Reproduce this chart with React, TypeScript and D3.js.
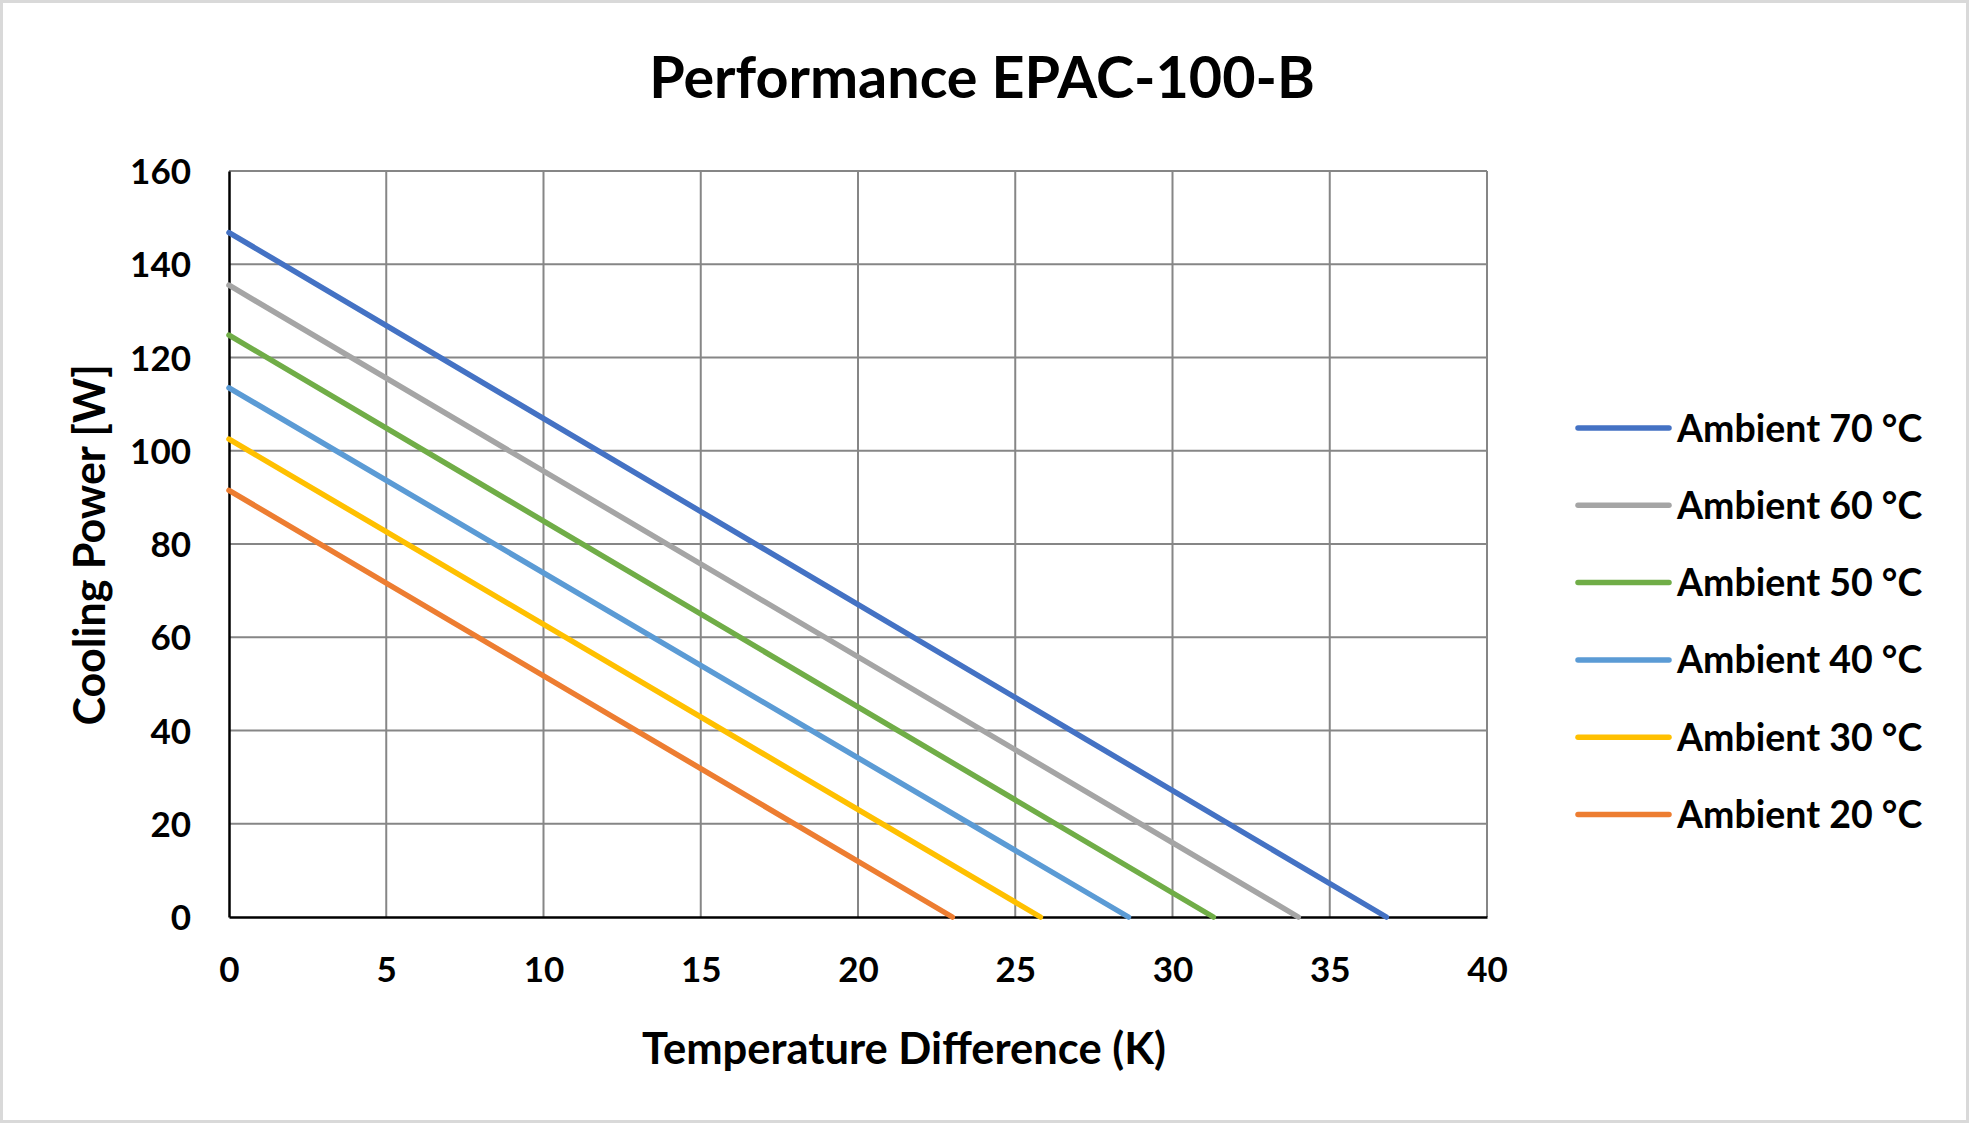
import React, { useEffect, useRef } from 'react';
import * as d3 from 'd3';

const seriesNames = ['Ambient 70 °C', 'Ambient 60 °C', 'Ambient 50 °C', 'Ambient 40 °C', 'Ambient 30 °C', 'Ambient 20 °C'];
const seriesColors = ['#4472C4', '#A5A5A5', '#70AD47', '#5B9BD5', '#FFC000', '#ED7D31'];
// cooling power at dT = 0 (W)
const maxPower = [146.8, 135.5, 124.8, 113.5, 102.5, 91.5];
// dT where cooling power reaches 0 (K)
const maxDeltaT = [36.8, 34.0, 31.3, 28.6, 25.8, 23.0];
const xTicks = [0, 5, 10, 15, 20, 25, 30, 35, 40];
const yTicks = [0, 20, 40, 60, 80, 100, 120, 140, 160];

const W = 1969;
const H = 1123;
const FONT = 'Lato, "Open Sans", sans-serif';

const App = () => {
    const ref = useRef<SVGSVGElement | null>(null);

    useEffect(() => {
        const svg = d3.select(ref.current);
        svg.selectAll('*').remove();

        const margin = { top: 171, right: 482, bottom: 206, left: 229 };
        const width = W - margin.left - margin.right;
        const height = H - margin.top - margin.bottom;

        svg.append('rect')
            .attr('x', 1.5).attr('y', 1.5)
            .attr('width', W - 3).attr('height', H - 3)
            .attr('fill', '#fff')
            .attr('stroke', '#d9d9d9')
            .attr('stroke-width', 3);

        const g = svg.append('g')
            .attr('transform', 'translate(' + margin.left + ',' + margin.top + ')');

        const x = d3.scaleLinear().domain([0, 40]).range([0, width]);
        const y = d3.scaleLinear().domain([0, 160]).range([height, 0]);

        // grid
        g.selectAll('.vgrid')
            .data(xTicks.slice(1))
            .enter().append('line')
            .attr('x1', (d: number) => x(d)).attr('x2', (d: number) => x(d))
            .attr('y1', 0).attr('y2', height)
            .attr('stroke', '#868686').attr('stroke-width', 2);
        g.selectAll('.hgrid')
            .data(yTicks.slice(1))
            .enter().append('line')
            .attr('x1', 0).attr('x2', width)
            .attr('y1', (d: number) => y(d)).attr('y2', (d: number) => y(d))
            .attr('stroke', '#868686').attr('stroke-width', 2);

        // axes
        const xAxis = g.append('g')
            .attr('transform', 'translate(0,' + height + ')')
            .call(d3.axisBottom(x).tickValues(xTicks).tickSize(0).tickPadding(65));
        const yAxis = g.append('g')
            .call(d3.axisLeft(y).tickValues(yTicks).tickSize(0).tickPadding(38));
        [xAxis, yAxis].forEach((a: any) => {
            a.select('.domain').attr('stroke', '#000').attr('stroke-width', 2.5);
            a.selectAll('text')
                .attr('font-family', FONT)
                .attr('font-weight', 'bold')
                .attr('font-size', 35)
                .attr('fill', '#000');
        });
        xAxis.selectAll('text').attr('dy', '0');
        yAxis.selectAll('text').attr('dy', '0.36em');

        // series
        const line = d3.line<[number, number]>()
            .x((d) => x(d[0]))
            .y((d) => y(d[1]));
        seriesNames.forEach((name, i) => {
            const pts: [number, number][] = [[0, maxPower[i]], [maxDeltaT[i], 0]];
            g.append('path')
                .datum(pts)
                .attr('d', line)
                .attr('fill', 'none')
                .attr('stroke', seriesColors[i])
                .attr('stroke-width', 5.5)
                .attr('stroke-linecap', 'round');
        });

        // titles
        svg.append('text')
            .text('Performance EPAC-100-B')
            .attr('x', 982).attr('y', 98)
            .attr('text-anchor', 'middle')
            .attr('font-family', FONT).attr('font-weight', 'bold').attr('font-size', 57.5)
            .attr('fill', '#000');
        svg.append('text')
            .text('Temperature Difference (K)')
            .attr('x', 904).attr('y', 1064)
            .attr('text-anchor', 'middle')
            .attr('font-family', FONT).attr('font-weight', 'bold').attr('font-size', 43.5)
            .attr('fill', '#000');
        svg.append('text')
            .text('Cooling Power [W]')
            .attr('transform', 'translate(105,545) rotate(-90)')
            .attr('text-anchor', 'middle')
            .attr('font-family', FONT).attr('font-weight', 'bold').attr('font-size', 43)
            .attr('fill', '#000');

        // legend
        const legendG = svg.selectAll('.legend')
            .data(seriesNames)
            .enter().append('g')
            .attr('class', 'legend')
            .attr('transform', (d: string, i: number) => 'translate(1578,' + (428 + i * 77.3) + ')');
        legendG.append('line')
            .attr('x1', 0).attr('x2', 91)
            .attr('stroke', (d: string, i: number) => seriesColors[i])
            .attr('stroke-width', 5.5)
            .attr('stroke-linecap', 'round');
        legendG.append('text')
            .text((d: string) => d)
            .attr('x', 99).attr('dy', '0.36em')
            .attr('font-family', FONT).attr('font-weight', 'bold').attr('font-size', 37.5)
            .attr('fill', '#000');
    }, []);

    return (
        <svg ref={ref} width={W} height={H} style={{ position: 'absolute', left: 0, top: 0 }} />
    );
};

export default App;
